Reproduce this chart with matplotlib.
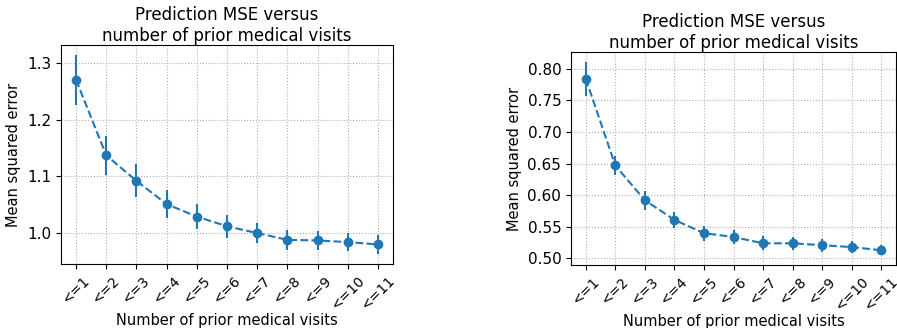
import matplotlib
matplotlib.use("Agg")
import matplotlib.pyplot as plt
from matplotlib.ticker import MultipleLocator, FormatStrFormatter
import numpy as np

categories = ["<=1", "<=2", "<=3", "<=4", "<=5", "<=6", "<=7", "<=8", "<=9", "<=10", "<=11"]

mse_left = [1.270, 1.137, 1.092, 1.051, 1.029, 1.012, 1.000, 0.988, 0.987, 0.984, 0.980]
err_left = [0.044, 0.034, 0.029, 0.025, 0.022, 0.020, 0.017, 0.018, 0.016, 0.016, 0.017]

mse_right = [0.784, 0.647, 0.592, 0.561, 0.540, 0.534, 0.524, 0.524, 0.521, 0.518, 0.513]
err_right = [0.027, 0.015, 0.015, 0.013, 0.012, 0.011, 0.011, 0.010, 0.010, 0.009, 0.008]

title = "Prediction MSE versus\nnumber of prior medical visits"
xlabel = "Number of prior medical visits"
ylabel = "Mean squared error"

W, H = 897, 328
fig = plt.figure(figsize=(W / 100, H / 100), dpi=100)

panels = [
    (mse_left, err_left, [61, 45, 393, 264], 0.1, "%.1f"),
    (mse_right, err_right, [571, 52, 896, 265], 0.05, "%.2f"),
]

for mse, err, (x0, y0, x1, y1), ystep, yfmt in panels:
    ax = fig.add_axes([x0 / W, 1 - y1 / H, (x1 - x0) / W, (y1 - y0) / H])
    x = np.arange(len(categories))
    ax.errorbar(x, mse, yerr=err, fmt="o--", color="#1f77b4", markersize=6)
    ax.set_xticks(x)
    ax.set_xticklabels(categories, rotation=45, fontsize=10)
    ax.yaxis.set_major_locator(MultipleLocator(ystep))
    ax.yaxis.set_major_formatter(FormatStrFormatter(yfmt))
    ax.tick_params(axis="y", labelsize=11)
    ax.grid(True, linestyle=":", linewidth=0.8, color="#b0b0b0")
    ax.set_title(title, fontsize=12, pad=3)
    ax.set_xlabel(xlabel, fontsize=10.5, labelpad=0)
    ax.set_ylabel(ylabel, fontsize=10.5)

fig.savefig("out.png", dpi=100)
